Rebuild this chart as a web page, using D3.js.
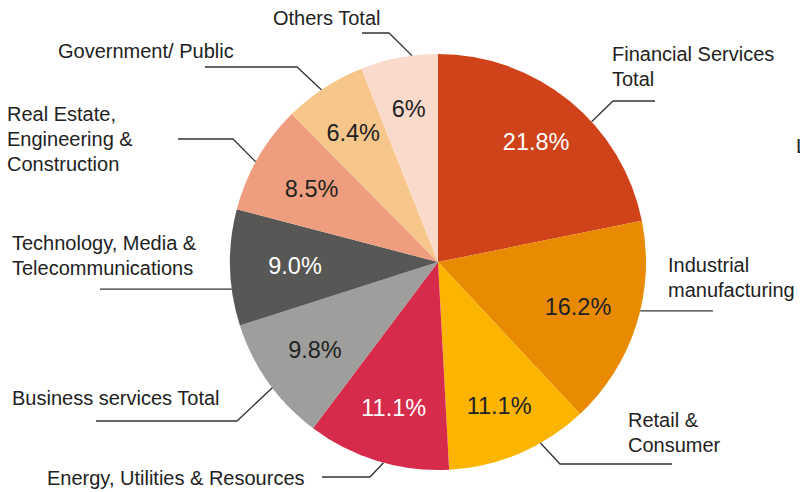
<!DOCTYPE html>
<html>
<head>
<meta charset="utf-8">
<script src="https://cdn.jsdelivr.net/npm/d3@7/dist/d3.min.js"></script>
<style>
  html, body { margin: 0; padding: 0; background: #fff; }
  svg { display: block; }
  text { font-family: "Liberation Sans", Arial, Helvetica, sans-serif; }
</style>
</head>
<body>
<svg id="chart" width="800" height="492"></svg>
<script>
// ---- data ----
const categories = [
  "Financial Services Total",
  "Industrial manufacturing",
  "Retail & Consumer",
  "Energy, Utilities & Resources",
  "Business services Total",
  "Technology, Media & Telecommunications",
  "Real Estate, Engineering & Construction",
  "Government/ Public",
  "Others Total"
];
const values = [21.8, 16.2, 11.1, 11.1, 9.8, 9.0, 8.5, 6.4, 6.0];
const valueLabels = ["21.8%", "16.2%", "11.1%", "11.1%", "9.8%", "9.0%", "8.5%", "6.4%", "6%"];

// ---- style / layout ----
const colors = ["#D0431A", "#E88A02", "#FBB400", "#D72B4B", "#9E9E9C", "#575755", "#EE9E7E", "#F6C68B", "#FADACB"];
const labelColors = ["#fff", "#222", "#222", "#fff", "#222", "#fff", "#222", "#222", "#222"];
const cx = 438, cy = 262, R = 208;
const labelRadii = [155, 147, 156, 152, 151, 143, 146, 155, 156];

// annotation layout: text lines, text x, first baseline, contact angle on the rim (deg), elbow, end x
const annotations = [
  {lines: ["Financial Services", "Total"], x: 612, y: 61, angle: 47.6, elbow: [613, 101], endX: 655},
  {lines: ["Industrial", "manufacturing"], x: 668, y: 272, angle: 103.6, elbow: null, endX: 713},
  {lines: ["Retail &", "Consumer"], x: 628, y: 427, angle: 150.5, elbow: [560, 464], endX: 672},
  {lines: ["Energy, Utilities & Resources"], x: 47, y: 485, angle: 195.2, elbow: [370, 477], endX: 322},
  {lines: ["Business services Total"], x: 12, y: 405, angle: 232.8, elbow: [237, 421], endX: 96},
  {lines: ["Technology, Media &", "Telecommunications"], x: 12, y: 250, angle: 262.5, elbow: null, endX: 100},
  {lines: ["Real Estate,", "Engineering &", "Construction"], x: 7, y: 121, angle: 298.8, elbow: [233, 139], endX: 178},
  {lines: ["Government/ Public"], x: 58, y: 58, angle: 325.9, elbow: [297, 67], endX: 205},
  {lines: ["Others Total"], x: 273, y: 25, angle: 352.8, elbow: [389, 33], endX: 362}
];

const svg = d3.select("#chart");
svg.append("rect").attr("width", 800).attr("height", 492).attr("fill", "#fff");

const pie = d3.pie().sort(null).value(d => d)(values);
const arc = d3.arc().innerRadius(0).outerRadius(R);

const g = svg.append("g").attr("transform", `translate(${cx},${cy})`);
g.selectAll("path").data(pie).join("path")
  .attr("d", arc)
  .attr("fill", (d, i) => colors[i]);

g.selectAll("text.pct").data(pie).join("text")
  .attr("class", "pct")
  .attr("transform", (d, i) => {
    const la = d3.arc().innerRadius(labelRadii[i]).outerRadius(labelRadii[i]);
    return `translate(${la.centroid(d)})`;
  })
  .attr("text-anchor", "middle")
  .attr("dy", "0.36em")
  .attr("font-size", 23.5)
  .attr("fill", (d, i) => labelColors[i])
  .text((d, i) => valueLabels[i]);

// leader lines
const line = d3.line();
annotations.forEach(a => {
  const t = a.angle * Math.PI / 180;
  const p0 = [cx + R * Math.sin(t), cy - R * Math.cos(t)];
  const pts = [p0];
  if (a.elbow) pts.push(a.elbow);
  const last = pts[pts.length - 1];
  pts.push([a.endX, last[1]]);
  svg.append("path").attr("d", line(pts))
    .attr("fill", "none").attr("stroke", "#333").attr("stroke-width", 1.3);

  const tx = svg.append("text").attr("font-size", 20).attr("fill", "#222");
  a.lines.forEach((l, j) => {
    tx.append("tspan").attr("x", a.x).attr("y", a.y + j * 25).text(l);
  });
});

// partially visible text at the right edge (cut off in the reference too)
svg.append("text").attr("x", 796).attr("y", 153).attr("font-size", 20).attr("fill", "#222").text("L");
</script>
</body>
</html>
